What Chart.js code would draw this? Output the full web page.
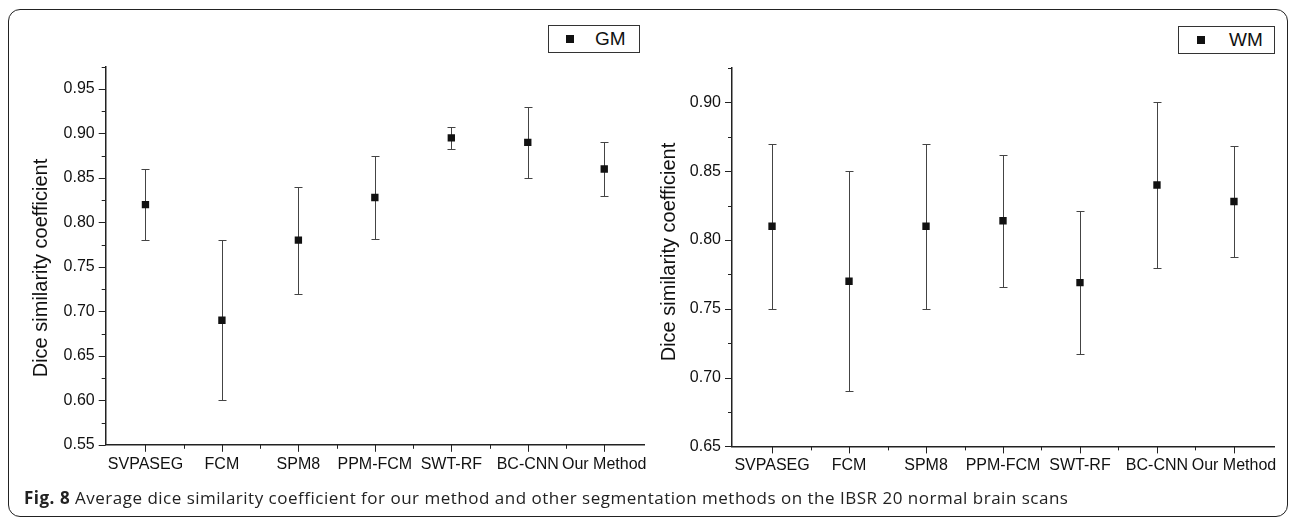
<!DOCTYPE html>
<html>
<head>
<meta charset="utf-8">
<script src="https://cdn.jsdelivr.net/npm/chart.js@4/dist/chart.umd.min.js"></script>
<style>
  html, body { margin: 0; padding: 0; background: #fff; }
  #page { position: relative; width: 1290px; height: 521px; overflow: hidden; background: #fff; }
  #frame { position: absolute; left: 8px; top: 9px; width: 1278px; height: 506px; border: 1.5px solid #222; border-radius: 12px; }
  canvas { position: absolute; top: 0; }
  #c1 { left: 0; }
  #c2 { left: 640px; }
  .legend { position: absolute; border: 1px solid #333; background: #fff; height: 26px; font-family: "Liberation Sans", Arial, sans-serif; font-size: 19px; color: #111; }
  .legend .mk { position: absolute; width: 8px; height: 8px; background: #111; top: 9px; }
  .legend .tx { position: absolute; top: 2px; line-height: 22px; }
  #caption { position: absolute; left: 24px; top: 488px; line-height: 20px; font-family: "Open Sans", "Noto Sans", sans-serif; font-size: 17px; letter-spacing: 0.5px; color: #222; white-space: nowrap; }
  #caption b { font-weight: 700; }
</style>
</head>
<body>
<div id="page">
  <div id="frame"></div>
  <canvas id="c1" width="660" height="521"></canvas>
  <canvas id="c2" width="650" height="521"></canvas>
  <div class="legend" style="left:548px; top:25px; width:90px;"><span class="mk" style="left:17px;"></span><span class="tx" style="left:46px;">GM</span></div>
  <div class="legend" style="left:1178px; top:26px; width:95px;"><span class="mk" style="left:18px;"></span><span class="tx" style="left:50px;">WM</span></div>
  <div id="caption"><b>Fig. 8</b> Average dice similarity coefficient for our method and other segmentation methods on the IBSR 20 normal brain scans</div>
</div>
<script>
// ---- data ----
const categories = ['SVPASEG', 'FCM', 'SPM8', 'PPM-FCM', 'SWT-RF', 'BC-CNN', 'Our Method'];
const gmMean = [0.820, 0.690, 0.780, 0.828, 0.895, 0.890, 0.860];
const gmLow  = [0.780, 0.600, 0.720, 0.781, 0.883, 0.850, 0.830];
const gmHigh = [0.860, 0.780, 0.840, 0.875, 0.907, 0.930, 0.890];
const wmMean = [0.810, 0.770, 0.810, 0.814, 0.769, 0.840, 0.828];
const wmLow  = [0.750, 0.690, 0.750, 0.766, 0.717, 0.780, 0.788];
const wmHigh = [0.870, 0.850, 0.870, 0.862, 0.821, 0.900, 0.868];
const gmTicks = [0.55, 0.60, 0.65, 0.70, 0.75, 0.80, 0.85, 0.90, 0.95];
const wmTicks = [0.65, 0.70, 0.75, 0.80, 0.85, 0.90];
const yTitle = 'Dice similarity coefficient';

Chart.defaults.font.family = '"Liberation Sans", Arial, sans-serif';
Chart.defaults.color = '#111';

function makeErrorBars(low, high) {
  return {
    id: 'errorBars',
    beforeDatasetsDraw(chart) {
      const { ctx, scales: { x, y } } = chart;
      ctx.save();
      ctx.strokeStyle = '#444';
      ctx.lineWidth = 1;
      low.forEach((lo, i) => {
        const px = Math.round(x.getPixelForValue(i)) + 0.5;
        const yl = Math.round(y.getPixelForValue(lo)) + 0.5;
        const yh = Math.round(y.getPixelForValue(high[i])) + 0.5;
        ctx.beginPath();
        ctx.moveTo(px, yl); ctx.lineTo(px, yh);
        ctx.moveTo(px - 4, yl); ctx.lineTo(px + 4, yl);
        ctx.moveTo(px - 4, yh); ctx.lineTo(px + 4, yh);
        ctx.stroke();
      });
      ctx.restore();
    }
  };
}

function makeYTitle(text, cx, cy) {
  return {
    id: 'yTitle',
    afterDraw(chart) {
      const { ctx } = chart;
      ctx.save();
      ctx.translate(cx, cy);
      ctx.rotate(-Math.PI / 2);
      ctx.font = '20px "Liberation Sans", Arial, sans-serif';
      ctx.fillStyle = '#111';
      ctx.textAlign = 'center';
      ctx.textBaseline = 'middle';
      ctx.fillText(text, 0, 0);
      ctx.restore();
    }
  };
}

const tickMarks = {
  id: 'tickMarks',
  afterDraw(chart) {
    const { ctx, scales: { x, y }, chartArea: a } = chart;
    ctx.save();
    ctx.strokeStyle = '#222';
    ctx.lineWidth = 1;
    const line = (x1, y1, x2, y2) => { ctx.beginPath(); ctx.moveTo(x1, y1); ctx.lineTo(x2, y2); ctx.stroke(); };
    const xv = x.ticks.map(t => t.value);
    xv.forEach(v => { const p = Math.round(x.getPixelForValue(v)) + 0.5; line(p, a.bottom, p, a.bottom + 7); });
    for (let i = 0; i < xv.length - 1; i++) {
      const p = Math.round(x.getPixelForValue((xv[i] + xv[i + 1]) / 2)) + 0.5;
      line(p, a.bottom, p, a.bottom + 4);
    }
    const yv = y.ticks.map(t => t.value);
    yv.forEach(v => { const p = Math.round(y.getPixelForValue(v)) + 0.5; line(a.left - 7, p, a.left, p); });
    for (let i = 0; i < yv.length - 1; i++) {
      const p = Math.round(y.getPixelForValue((yv[i] + yv[i + 1]) / 2)) + 0.5;
      line(a.left - 4, p, a.left, p);
    }
    const step = yv[1] - yv[0];
    const extra = yv[yv.length - 1] + step / 2;
    if (extra <= y.max + 1e-9) {
      const p = Math.round(y.getPixelForValue(extra)) + 0.5;
      line(a.left - 4, p, a.left, p);
    }
    ctx.restore();
  }
};

function makeChart(canvasId, means, low, high, ticks, yMin, yMax, geom) {
  const ctx = document.getElementById(canvasId);
  return new Chart(ctx, {
    type: 'scatter',
    data: {
      datasets: [{
        data: means.map((v, i) => ({ x: i, y: v })),
        pointStyle: 'rect',
        pointRadius: 5.2,
        pointHoverRadius: 5.2,
        backgroundColor: '#111',
        borderColor: '#111',
        borderWidth: 0,
        showLine: false
      }]
    },
    options: {
      responsive: false,
      animation: false,
      events: [],
      layout: { padding: { left: 0, top: geom.top, right: geom.right, bottom: 0 } },
      plugins: { legend: { display: false }, tooltip: { enabled: false } },
      scales: {
        x: {
          type: 'linear',
          min: -0.52,
          max: categories.length - 1 + 0.52,
          afterBuildTicks: s => { s.ticks = categories.map((c, i) => ({ value: i })); },
          afterFit: s => { s.height = geom.xHeight; },
          grid: { display: false, drawTicks: false },
          border: { display: true, color: '#222', width: 1.5 },
          ticks: {
            autoSkip: false, maxRotation: 0, minRotation: 0, padding: 10,
            font: { size: 16 }, color: '#111',
            callback: v => categories[v]
          }
        },
        y: {
          type: 'linear',
          min: yMin,
          max: yMax,
          afterBuildTicks: s => { s.ticks = ticks.map(v => ({ value: v })); },
          afterFit: s => { s.width = geom.yWidth; },
          grid: { display: false, drawTicks: false },
          border: { display: true, color: '#222', width: 1.5 },
          ticks: {
            padding: 11, font: { size: 16 }, color: '#111',
            callback: v => Number(v).toFixed(2)
          },
          title: { display: false }
        }
      }
    },
    plugins: [makeErrorBars(low, high), tickMarks, makeYTitle(yTitle, geom.titleX, geom.titleY)]
  });
}

makeChart('c1', gmMean, gmLow, gmHigh, gmTicks, 0.55, 0.975,
  { top: 66.7, right: 16, xHeight: 521 - 444.8, yWidth: 105.7, titleX: 41, titleY: 268 });
makeChart('c2', wmMean, wmLow, wmHigh, wmTicks, 0.65, 0.925,
  { top: 68, right: 16, xHeight: 521 - 446.4, yWidth: 92, titleX: 29, titleY: 252 });
</script>
</body>
</html>
